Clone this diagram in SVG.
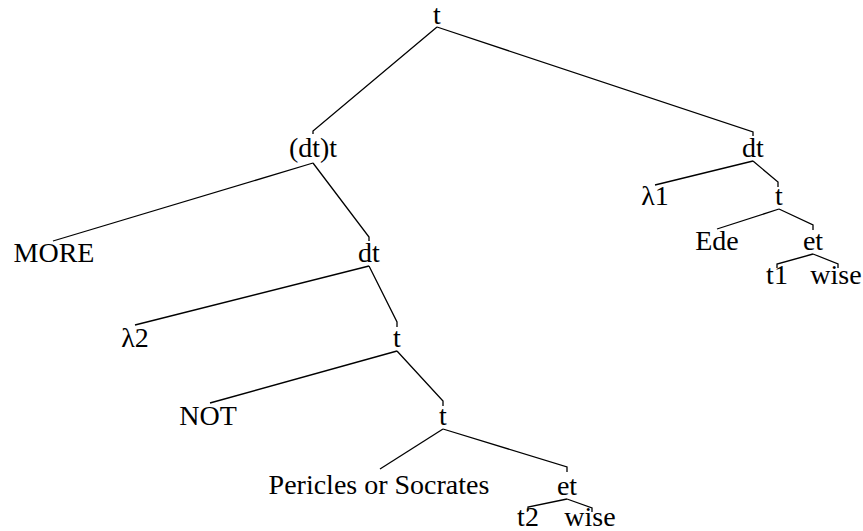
<svg xmlns="http://www.w3.org/2000/svg" width="863" height="531" viewBox="0 0 863 531">
<style>
text{font-family:'Liberation Serif','Times New Roman',serif;font-size:28px;fill:#000;text-anchor:middle}
.e polyline{fill:none;stroke:#000;stroke-width:1.3}
</style>
<rect width="863" height="531" fill="#fff"/>
<g class="e" id="connectors">
<polyline points="437,27 313,131 313,134"/>
<polyline points="437,27 753,132 753,136"/>
<polyline points="313,163 53,241"/>
<polyline points="313,163 369,237 369,241"/>
<polyline points="753,161 655,185"/>
<polyline points="753,161 778,182 778,187"/>
<polyline points="369,266 135,325"/>
<polyline points="369,266 397,322 397,327"/>
<polyline points="779,209 717,229"/>
<polyline points="779,209 813,225 813,230"/>
<polyline points="397,351 210,403"/>
<polyline points="397,351 443,401 443,406"/>
<polyline points="813,254 777,264 777,268"/>
<polyline points="813,254 838,264 838,268"/>
<polyline points="443,429 380,469"/>
<polyline points="443,429 567,467 567,472"/>
<polyline points="567,499 528,507 528,511"/>
<polyline points="567,499 592,508 592,512"/>
</g>
<g id="n-root"><text x="437" y="24">t</text></g>
<g id="n-dtt"><text x="313" y="157">(dt)t</text></g>
<g id="n-dtR"><text x="753" y="157">dt</text></g>
<g id="n-more"><text x="54" y="262">MORE</text></g>
<g id="n-dtM"><text x="369" y="262">dt</text></g>
<g id="n-lambda1"><text x="655" y="205">λ1</text></g>
<g id="n-tR"><text x="779" y="205">t</text></g>
<g id="n-lambda2"><text x="135" y="347">λ2</text></g>
<g id="n-t4"><text x="397" y="347">t</text></g>
<g id="n-ede"><text x="717" y="250">Ede</text></g>
<g id="n-etR"><text x="813" y="250">et</text></g>
<g id="n-not"><text x="208" y="425">NOT</text></g>
<g id="n-t5"><text x="443" y="425">t</text></g>
<g id="n-t1"><text x="777" y="284">t1</text></g>
<g id="n-wiseR"><text x="836" y="284">wise</text></g>
<g id="n-pericles"><text x="379" y="494">Pericles or Socrates</text></g>
<g id="n-etB"><text x="567" y="495">et</text></g>
<g id="n-t2"><text x="528" y="526">t2</text></g>
<g id="n-wiseB"><text x="590" y="526">wise</text></g>
</svg>
